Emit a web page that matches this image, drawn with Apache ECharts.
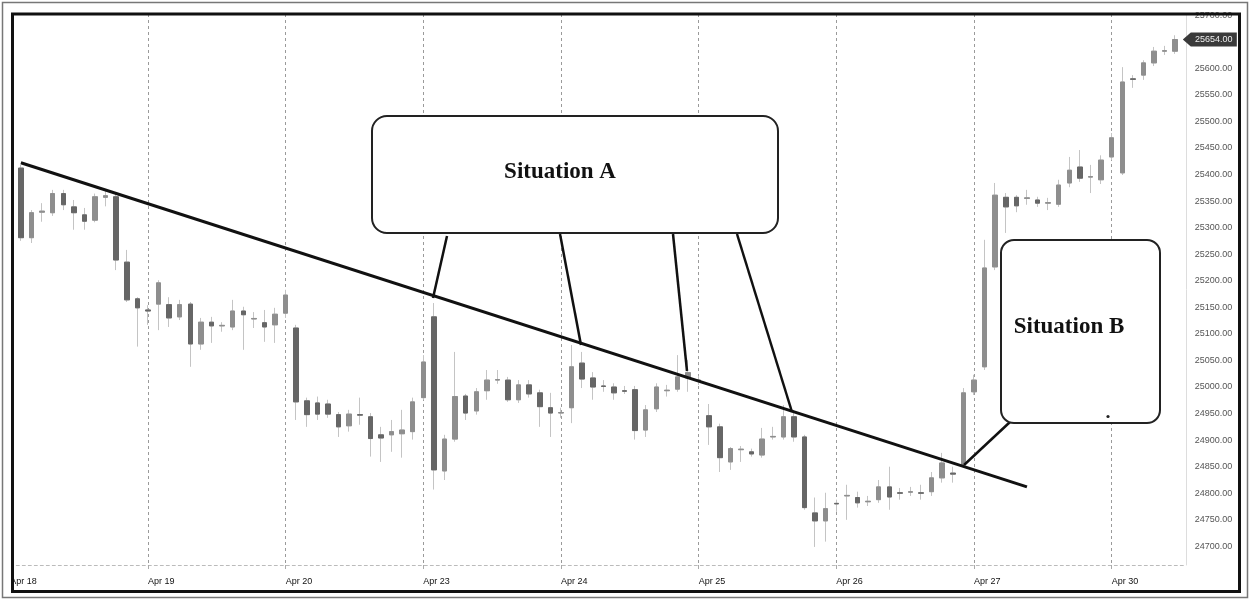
<!DOCTYPE html>
<html><head><meta charset="utf-8">
<script src="https://cdn.jsdelivr.net/npm/echarts@6/dist/echarts.min.js"></script>
<style>html,body{margin:0;padding:0;background:#fff}#c{width:1251px;height:601px}</style>
</head><body><div id="c"></div>
<script>
// ---- data ----
const days = ['Apr 18','Apr 19','Apr 20','Apr 23','Apr 24','Apr 25','Apr 26','Apr 27','Apr 30'];
const barsPerDay = 13;
const opens = [null,
25412,25281,25329,25328,25364,25339,25324,25314,25357,25358,25235,25166,25145,25156,25155,25132,25156,25081,25122,25115,25113,25143,25128,25121,25117,25139,
25111,24974,24970,24968,24948,24927,24948,24944,24910,24910,24912,24916,24980,25132,24842,24902,24983,24955,24993,25013,25013,24976,25004,24989,24961,24951,
24961,25045,25017,25002,25000,24993,24995,24919,24959,24993,24996,25017,25013,24946,24925,24859,24882,24878,24872,24906,24906,24944,24906,24763,24748,24781,
24795,24792,24784,24788,24812,24801,24802,24801,24803,24829,24838,24854,24991,25038,25226,25357,25357,25355,25352,25346,25344,25384,25414,25395,25390,25433,
25403,25580,25587,25610,25632,25632, null];
const closes = [null,
25281,25328,25331,25364,25343,25328,25312,25358,25360,25239,25164,25149,25143,25196,25130,25155,25081,25122,25115,25116,25143,25136,25129,25113,25137,25173,
24972,24948,24949,24949,24925,24949,24947,24903,24904,24916,24919,24972,25047,24844,24902,24982,24951,24991,25013,25014,24976,25004,24987,24963,24951,24952,
25038,25015,25000,25001,24989,24992,24918,24957,25000,24994,25019,25027,25012,24925,24867,24884,24883,24874,24902,24907,24944,24906,24773,24748,24771,24780,
24796,24782,24785,24812,24793,24800,24803,24800,24829,24857,24836,24989,25013,25224,25361,25339,25341,25356,25346,25347,25380,25408,25393,25396,25427,25469,
25574,25579,25610,25632,25633,25654, null];
const lows = [null,
25275,25271,25311,25322,25333,25296,25296,25310,25340,25220,25160,25076,25117,25107,25113,25126,25038,25070,25083,25104,25107,25070,25111,25085,25083,25130,
24938,24925,24938,24942,24906,24916,24929,24869,24859,24878,24867,24901,24976,24807,24825,24897,24938,24948,24976,25006,24972,24970,24980,24925,24906,24942,
24932,24998,24976,24991,24976,24987,24901,24906,24953,24982,24991,24991,25004,24891,24840,24844,24859,24869,24867,24901,24901,24897,24769,24699,24709,24765,
24750,24773,24776,24782,24769,24788,24795,24788,24795,24820,24820,24848,24985,25032,25220,25290,25329,25343,25339,25333,25339,25376,25386,25365,25382,25427,
25399,25563,25578,25604,25625,25627, null];
const highs = [null,
25418,25333,25346,25371,25371,25352,25337,25364,25371,25364,25258,25169,25154,25201,25169,25164,25160,25130,25132,25122,25164,25151,25141,25145,25149,25183,
25117,24980,24982,24976,24953,24957,24980,24951,24925,24938,24957,24980,25060,25158,24910,25066,24987,24998,25032,25032,25019,25013,25013,24995,24989,24961,
25079,25066,25028,25013,25007,25002,25002,24966,25007,25004,25060,25051,25021,24968,24931,24887,24889,24884,24923,24925,24966,24957,24910,24792,24801,24788,
24816,24803,24795,24825,24850,24810,24812,24816,24840,24876,24850,24998,25023,25277,25384,25365,25361,25371,25358,25356,25390,25433,25446,25418,25436,25478,
25602,25587,25615,25640,25642,25662, null];
const yTicks = [24700,24750,24800,24850,24900,24950,25000,25050,25100,25150,25200,25250,25300,25350,25400,25450,25500,25550,25600,25650,25700];
const trendStart = [1, 25422];
const trendEnd = [96, 24812];
const lastPriceLabel = '25654.00';

// ---- build ----
const cats = opens.map((_, i) => days[Math.min(days.length - 1, Math.floor(i / barsPerDay))] + ' #' + (i % barsPerDay));
const full = opens.map((o, i) => o == null ? '-' : [o, closes[i], lows[i], highs[i]]);
const bodies = opens.map((o, i) => o == null ? '-' : [o, closes[i], Math.min(o, closes[i]), Math.max(o, closes[i])]);
const dayStart = (i) => i % barsPerDay === 0 && i > 0 && i < cats.length - 1;

const chart = echarts.init(document.getElementById('c'), null, {renderer: 'canvas'});
const option = {
  backgroundColor: '#fff',
  animation: false,
  grid: {left: 10.3, right: 65.2, top: 14, bottom: 36},
  xAxis: {
    type: 'category', data: cats, boundaryGap: false,
    axisLine: {show: true, lineStyle: {color: '#bbb', type: [3, 3], width: 1}},
    axisTick: {show: true, interval: (i) => dayStart(i), length: 4, lineStyle: {color: '#aaa'}},
    axisLabel: {interval: (i) => i % barsPerDay === 0, formatter: (v) => v.split(' #')[0],
      align: 'left', fontSize: 9, color: '#111', margin: 12, fontFamily: 'Liberation Sans'},
    splitLine: {show: true, interval: (i) => dayStart(i), lineStyle: {color: '#9a9a9a', type: [3, 3], width: 1}}
  },
  yAxis: {
    type: 'value', position: 'right', min: 24665, max: 25702, scale: true,
    axisLine: {show: true, lineStyle: {color: '#ddd'}},
    axisTick: {show: false},
    splitLine: {show: false},
    axisLabel: {customValues: yTicks, formatter: (v) => Number(v).toFixed(2), fontSize: 9, color: '#555', margin: 9, fontFamily: 'Liberation Sans'}
  },
  series: [
    {
      type: 'candlestick', name: 'wick', data: full, barWidth: 5, z: 2,
      itemStyle: {color: '#c4c4c4', color0: '#c4c4c4', borderColor: '#c4c4c4', borderColor0: '#c4c4c4', borderColorDoji: '#c4c4c4', borderWidth: 1},
      markLine: {
        silent: true, symbol: ['none', 'none'], z: 10,
        lineStyle: {color: '#111', width: 3, type: 'solid'},
        label: {show: false},
        data: [[{coord: [cats[trendStart[0]], trendStart[1]]}, {coord: [cats[trendEnd[0]], trendEnd[1]]}]]
      }
    },
    {
      type: 'candlestick', name: 'body', data: bodies, barWidth: 5, z: 3,
      itemStyle: {color: '#8e8e8e', color0: '#666', borderColor: '#8e8e8e', borderColor0: '#666', borderColorDoji: '#999', borderWidth: 1}
    }
  ],
  graphic: [
    {type: 'rect', id: 'leftcover', z: 90, shape: {x: 0, y: 0, width: 11, height: 601}, style: {fill: '#fff'}},
    {type: 'rect', id: 'outer', z: 100, shape: {x: 2.5, y: 2.5, width: 1245, height: 595}, style: {fill: 'none', stroke: '#777', lineWidth: 1.5}},
    {type: 'rect', id: 'frame', z: 100, shape: {x: 12.5, y: 14, width: 1227, height: 577.5}, style: {fill: 'none', stroke: '#111', lineWidth: 3}},
    // Callout A
    {type: 'line', z: 110, shape: {x1: 447, y1: 236, x2: 433, y2: 298}, style: {stroke: '#111', lineWidth: 2.5}},
    {type: 'line', z: 110, shape: {x1: 560, y1: 234, x2: 581, y2: 345}, style: {stroke: '#111', lineWidth: 2.5}},
    {type: 'line', z: 110, shape: {x1: 673, y1: 234, x2: 687, y2: 371}, style: {stroke: '#111', lineWidth: 2.5}},
    {type: 'line', z: 110, shape: {x1: 737, y1: 234, x2: 792, y2: 412}, style: {stroke: '#111', lineWidth: 2.5}},
    {type: 'rect', z: 111, shape: {x: 372, y: 116, width: 406, height: 117, r: 15}, style: {fill: '#fff', stroke: '#222', lineWidth: 2}},
    {type: 'text', z: 112, x: 560, y: 172, style: {text: 'Situation A', font: 'bold 23px "Liberation Serif"', fill: '#111', align: 'center', verticalAlign: 'middle'}},
    // Callout B
    {type: 'line', z: 110, shape: {x1: 1010, y1: 422, x2: 964, y2: 465}, style: {stroke: '#111', lineWidth: 2.5}},
    {type: 'rect', z: 111, shape: {x: 1001, y: 240, width: 159, height: 183, r: 13}, style: {fill: '#fff', stroke: '#222', lineWidth: 2}},
    {type: 'text', z: 112, x: 1069, y: 327, style: {text: 'Situation B', font: 'bold 23px "Liberation Serif"', fill: '#111', align: 'center', verticalAlign: 'middle'}},
    {type: 'circle', z: 112, shape: {cx: 1108, cy: 416.5, r: 1.6}, style: {fill: '#222'}}
  ]
};
chart.setOption(option);

// last-price tag on the right axis
const lastIdx = closes.length - 2;
const py = chart.convertToPixel({yAxisIndex: 0}, closes[lastIdx]);
const px = chart.convertToPixel({xAxisIndex: 0}, cats[cats.length - 1]);
chart.setOption({graphic: [
  {type: 'polygon', id: 'tag', z: 95, shape: {points: [[px - 3, py], [px + 5, py - 7], [px + 51, py - 7], [px + 51, py + 7], [px + 5, py + 7]]}, style: {fill: '#3a3a3a'}},
  {type: 'text', id: 'tagtxt', z: 96, x: px + 28, y: py, style: {text: lastPriceLabel, font: '9px "Liberation Sans"', fill: '#eee', align: 'center', verticalAlign: 'middle'}}
]});
</script>
</body></html>
